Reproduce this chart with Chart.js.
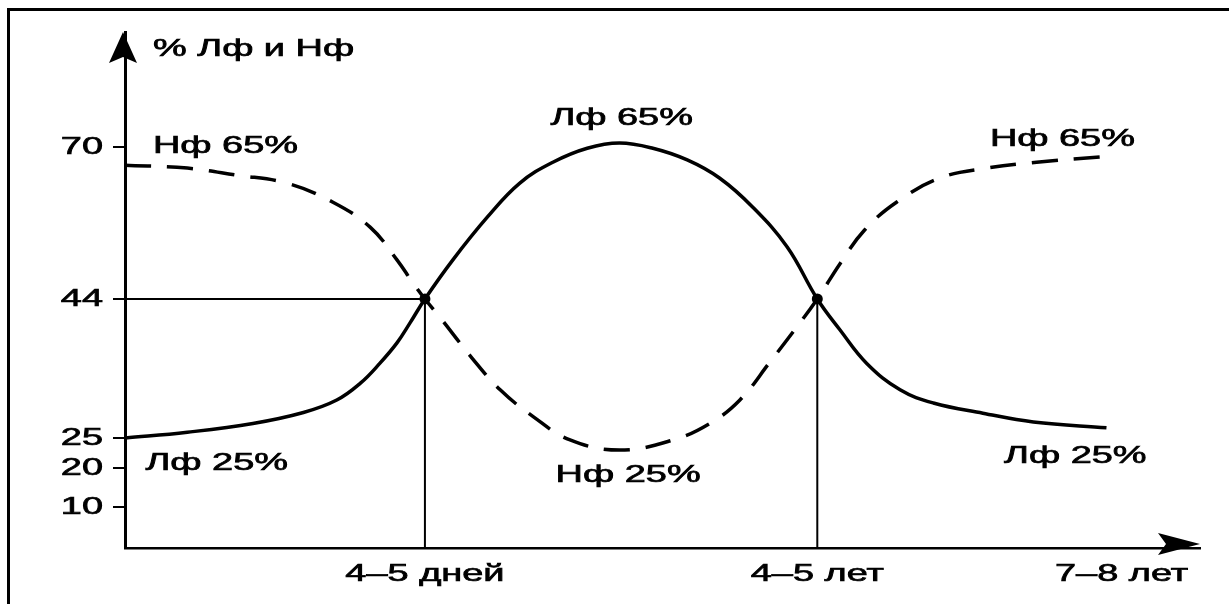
<!DOCTYPE html>
<html lang="ru">
<head>
<meta charset="UTF-8">
<title>Лф и Нф</title>
<script src="https://cdn.jsdelivr.net/npm/chart.js@4"></script>
<style>
  * { box-sizing: border-box; margin: 0; padding: 0; }
  html, body { width: 1229px; height: 604px; background: #fff; overflow: hidden; }
  .frame { position: absolute; left: 7px; top: 8px; width: 1240px; height: 610px;
           border-top: 3px solid #000; border-left: 3px solid #000; }
  canvas { position: absolute; left: 0; top: 0; }
</style>
</head>
<body>
<div class="frame"></div>
<canvas id="chart" width="1229" height="604"></canvas>
<script>
// ── Data ─────────────────────────────────────────────────────────────────────
// age runs 0..100 along the x axis, share is % of Лф / Нф
const lfAge   = [0, 5.8, 11.9, 16.6, 19.7, 21.9, 23.7, 25.3, 26.5, 27.9, 30.5, 33.7, 36.7, 39.8, 43.0, 46.0, 49.1, 52.3, 55.3, 58.4, 61.6, 64.4, 66.5, 69.0, 72.1, 75.2, 79.8, 84.5, 91.3];
const lfShare = [25, 25.8, 27.0, 28.5, 30.2, 32.5, 35.2, 38.0, 40.7, 44, 50.7, 58.0, 63.8, 67.4, 69.8, 70.7, 69.8, 67.8, 64.7, 59.7, 52.9, 44, 39.8, 35.2, 31.6, 29.8, 28.4, 27.2, 26.4];

const nfAge   = [0, 5.8, 10.4, 15.1, 19.3, 22.8, 25.3, 26.8, 27.9, 29.3, 32.3, 34.9, 38.0, 41.4, 46.0, 51.0, 54.4, 57.2, 60.0, 62.3, 64.4, 66.5, 68.8, 71.8, 75.8, 80.2, 84.8, 90.7];
const nfShare = [66.9, 66.4, 65.2, 63.8, 60.6, 56.3, 50.7, 46.7, 44, 41.5, 35.9, 31.6, 27.9, 24.7, 23.0, 24.7, 27.0, 30.2, 35.4, 39.8, 44, 50.0, 55.8, 60.6, 64.7, 66.4, 67.4, 68.3];

// where the two curves cross
const crossAge   = [27.9, 64.4];
const crossShare = 44;

const xTickAt     = [27.9, 64.4, 92.7];
const xTickLabels = ['4–5 дней', '4–5 лет', '7–8 лет'];
const yTickValues = [10, 20, 25, 44, 70];
const yTitle      = '% Лф и Нф';

const curveLabels = [
  { text: 'Нф 65%', x: 2.6,  y: 70.2, align: 'left' },
  { text: 'Лф 65%', x: 46.2, y: 75.0, align: 'center' },
  { text: 'Нф 65%', x: 87.2, y: 71.4, align: 'center' },
  { text: 'Лф 25%', x: 1.9,  y: 20.7, align: 'left' },
  { text: 'Нф 25%', x: 46.8, y: 18.2, align: 'center' },
  { text: 'Лф 25%', x: 88.4, y: 22.0, align: 'center' }
];

// ── Broken vertical scale: the printed axis is not evenly spaced ────────────
const axisBreaks = [0, 10, 20, 25, 44, 70, 90];
const axisSteps  = [0, 0.0795, 0.155, 0.213, 0.4826, 0.777, 1];

function lerpTable(v, from, to) {
  if (v <= from[0]) return to[0];
  for (let i = 1; i < from.length; i++) {
    if (v <= from[i]) {
      const t = (v - from[i - 1]) / (from[i] - from[i - 1]);
      return to[i - 1] + t * (to[i] - to[i - 1]);
    }
  }
  const n = from.length - 1;
  return to[n] + (v - from[n]) * (to[n] - to[n - 1]) / (from[n] - from[n - 1]);
}

class BrokenScale extends Chart.LinearScale {
  getPixelForValue(value) {
    return this.bottom - lerpTable(value, axisBreaks, axisSteps) * (this.bottom - this.top);
  }
  getValueForPixel(pixel) {
    return lerpTable((this.bottom - pixel) / (this.bottom - this.top), axisSteps, axisBreaks);
  }
}
BrokenScale.id = 'broken';
BrokenScale.defaults = Chart.LinearScale.defaults;
Chart.register(BrokenScale);

// ── Text and arrows ─────────────────────────────────────────────────────────
const FONT = '24px "Liberation Sans", Arial, sans-serif';
const STRETCH = 1.58;

// printed type is wide and a little heavy: stretch it and add a thin outline
function wideText(ctx, text, x, y, align) {
  ctx.save();
  ctx.translate(x, y);
  ctx.scale(STRETCH, 1);
  ctx.textAlign = align;
  ctx.textBaseline = 'middle';
  ctx.fillText(text, 0, 0);
  ctx.lineWidth = 0.7;
  ctx.strokeText(text, 0, 0);
  ctx.restore();
}

const decorations = {
  id: 'decorations',
  afterDraw(chart) {
    const { ctx, chartArea: a, scales: { x, y } } = chart;
    ctx.save();
    ctx.fillStyle = '#000';
    ctx.strokeStyle = '#000';

    // arrow heads
    ctx.beginPath();
    ctx.moveTo(a.left - 2, a.top);
    ctx.lineTo(a.left - 16, a.top + 31);
    ctx.lineTo(a.left - 2, a.top + 25);
    ctx.lineTo(a.left + 12, a.top + 31);
    ctx.closePath();
    ctx.fill();

    ctx.beginPath();
    ctx.moveTo(a.right, a.bottom - 4);
    ctx.lineTo(a.right - 42, a.bottom - 15);
    ctx.lineTo(a.right - 34, a.bottom - 4);
    ctx.lineTo(a.right - 42, a.bottom + 7);
    ctx.closePath();
    ctx.fill();

    ctx.font = FONT;
    wideText(ctx, yTitle, a.left + 28, a.top + 17, 'left');

    y.ticks.forEach(t => wideText(ctx, String(t.value), a.left - 22, y.getPixelForValue(t.value), 'right'));
    x.ticks.forEach((t, i) => wideText(ctx, xTickLabels[i], x.getPixelForValue(t.value), a.bottom + 26, 'center'));

    curveLabels.forEach(l => wideText(ctx, l.text, x.getPixelForValue(l.x), y.getPixelForValue(l.y), l.align));
    ctx.restore();
  }
};

// ── Chart ───────────────────────────────────────────────────────────────────
const toPoints = (xs, ys) => xs.map((v, i) => ({ x: v, y: ys[i] }));

new Chart(document.getElementById('chart'), {
  type: 'line',
  data: {
    datasets: [
      { label: 'Лф', data: toPoints(lfAge, lfShare), borderColor: '#000', borderWidth: 3.5,
        pointRadius: 0, tension: 0.4 },
      { label: 'Нф', data: toPoints(nfAge, nfShare), borderColor: '#000', borderWidth: 3.5,
        borderDash: [26, 16], pointRadius: 0, tension: 0.4 },
      { label: 'cross1', data: [{ x: 0, y: crossShare }, { x: crossAge[0], y: crossShare }, { x: crossAge[0], y: 0 }],
        borderColor: '#000', borderWidth: 2, tension: 0,
        pointRadius: [0, 5.5, 0], pointBackgroundColor: '#000', pointBorderWidth: 0 },
      { label: 'cross2', data: [{ x: crossAge[1], y: crossShare }, { x: crossAge[1], y: 0 }],
        borderColor: '#000', borderWidth: 2, tension: 0,
        pointRadius: [5.5, 0], pointBackgroundColor: '#000', pointBorderWidth: 0 }
    ]
  },
  options: {
    responsive: false,
    animation: false,
    events: [],
    layout: { padding: { left: 65, right: 29, top: 32, bottom: 36 } },
    plugins: { legend: { display: false }, tooltip: { enabled: false } },
    scales: {
      x: {
        type: 'linear', min: 0, max: 100,
        afterBuildTicks: s => { s.ticks = xTickAt.map(v => ({ value: v })); },
        afterFit: s => { s.height = 20; },
        ticks: { display: false },
        grid: { display: false },
        border: { display: true, color: '#000', width: 2.5 }
      },
      y: {
        type: 'broken', min: 0, max: 90,
        afterBuildTicks: s => { s.ticks = yTickValues.map(v => ({ value: v })); },
        afterFit: s => { s.width = 60; },
        ticks: { display: false },
        grid: { display: true, drawOnChartArea: false, drawTicks: true, tickLength: 12, color: '#000', lineWidth: 2 },
        border: { display: true, color: '#000', width: 3 }
      }
    }
  },
  plugins: [decorations]
});
</script>
</body>
</html>
